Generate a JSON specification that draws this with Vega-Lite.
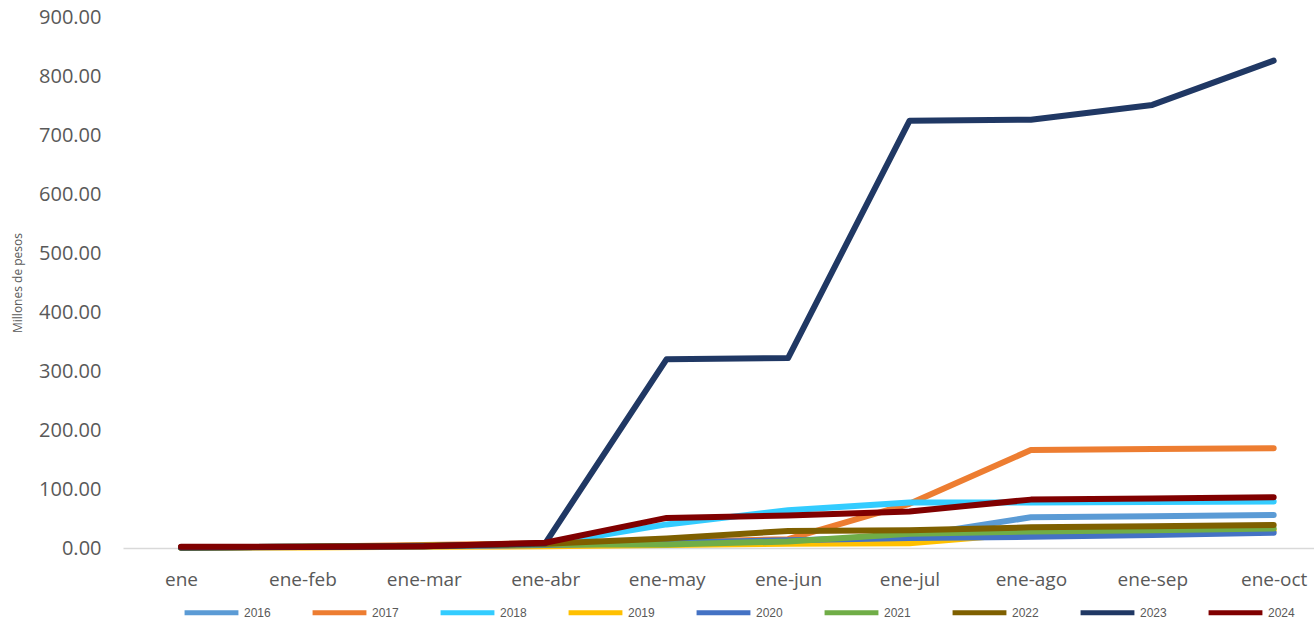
{
  "$schema": "https://vega.github.io/schema/vega-lite/v6.json",
  "width": 1191,
  "height": 531,
  "autosize": {"type": "none"},
  "padding": {"left": 123, "top": 17, "right": 0, "bottom": 73},
  "background": "white",
  "config": {"view": {"stroke": null}, "font": "Open Sans"},
  "datasets": {
    "d": [
      {"mes": "ene", "anio": "2016", "valor": 1}, {"mes": "ene-feb", "anio": "2016", "valor": 2}, {"mes": "ene-mar", "anio": "2016", "valor": 3}, {"mes": "ene-abr", "anio": "2016", "valor": 5}, {"mes": "ene-may", "anio": "2016", "valor": 8}, {"mes": "ene-jun", "anio": "2016", "valor": 12}, {"mes": "ene-jul", "anio": "2016", "valor": 20}, {"mes": "ene-ago", "anio": "2016", "valor": 52}, {"mes": "ene-sep", "anio": "2016", "valor": 54}, {"mes": "ene-oct", "anio": "2016", "valor": 56},
      {"mes": "ene", "anio": "2017", "valor": 1}, {"mes": "ene-feb", "anio": "2017", "valor": 2}, {"mes": "ene-mar", "anio": "2017", "valor": 5}, {"mes": "ene-abr", "anio": "2017", "valor": 8}, {"mes": "ene-may", "anio": "2017", "valor": 10}, {"mes": "ene-jun", "anio": "2017", "valor": 15}, {"mes": "ene-jul", "anio": "2017", "valor": 75}, {"mes": "ene-ago", "anio": "2017", "valor": 166}, {"mes": "ene-sep", "anio": "2017", "valor": 168}, {"mes": "ene-oct", "anio": "2017", "valor": 169},
      {"mes": "ene", "anio": "2018", "valor": 1}, {"mes": "ene-feb", "anio": "2018", "valor": 2}, {"mes": "ene-mar", "anio": "2018", "valor": 3}, {"mes": "ene-abr", "anio": "2018", "valor": 6}, {"mes": "ene-may", "anio": "2018", "valor": 40}, {"mes": "ene-jun", "anio": "2018", "valor": 64}, {"mes": "ene-jul", "anio": "2018", "valor": 77}, {"mes": "ene-ago", "anio": "2018", "valor": 77}, {"mes": "ene-sep", "anio": "2018", "valor": 78}, {"mes": "ene-oct", "anio": "2018", "valor": 79},
      {"mes": "ene", "anio": "2019", "valor": 0.5}, {"mes": "ene-feb", "anio": "2019", "valor": 1}, {"mes": "ene-mar", "anio": "2019", "valor": 2}, {"mes": "ene-abr", "anio": "2019", "valor": 3}, {"mes": "ene-may", "anio": "2019", "valor": 5}, {"mes": "ene-jun", "anio": "2019", "valor": 7}, {"mes": "ene-jul", "anio": "2019", "valor": 8}, {"mes": "ene-ago", "anio": "2019", "valor": 25}, {"mes": "ene-sep", "anio": "2019", "valor": 28}, {"mes": "ene-oct", "anio": "2019", "valor": 30},
      {"mes": "ene", "anio": "2020", "valor": 1}, {"mes": "ene-feb", "anio": "2020", "valor": 2}, {"mes": "ene-mar", "anio": "2020", "valor": 3}, {"mes": "ene-abr", "anio": "2020", "valor": 5}, {"mes": "ene-may", "anio": "2020", "valor": 9}, {"mes": "ene-jun", "anio": "2020", "valor": 13}, {"mes": "ene-jul", "anio": "2020", "valor": 17}, {"mes": "ene-ago", "anio": "2020", "valor": 19}, {"mes": "ene-sep", "anio": "2020", "valor": 22}, {"mes": "ene-oct", "anio": "2020", "valor": 26},
      {"mes": "ene", "anio": "2021", "valor": 1}, {"mes": "ene-feb", "anio": "2021", "valor": 2}, {"mes": "ene-mar", "anio": "2021", "valor": 4}, {"mes": "ene-abr", "anio": "2021", "valor": 6}, {"mes": "ene-may", "anio": "2021", "valor": 6}, {"mes": "ene-jun", "anio": "2021", "valor": 11}, {"mes": "ene-jul", "anio": "2021", "valor": 24}, {"mes": "ene-ago", "anio": "2021", "valor": 28}, {"mes": "ene-sep", "anio": "2021", "valor": 30}, {"mes": "ene-oct", "anio": "2021", "valor": 33},
      {"mes": "ene", "anio": "2022", "valor": 1}, {"mes": "ene-feb", "anio": "2022", "valor": 2}, {"mes": "ene-mar", "anio": "2022", "valor": 4}, {"mes": "ene-abr", "anio": "2022", "valor": 7}, {"mes": "ene-may", "anio": "2022", "valor": 16}, {"mes": "ene-jun", "anio": "2022", "valor": 29}, {"mes": "ene-jul", "anio": "2022", "valor": 30}, {"mes": "ene-ago", "anio": "2022", "valor": 35}, {"mes": "ene-sep", "anio": "2022", "valor": 37}, {"mes": "ene-oct", "anio": "2022", "valor": 39},
      {"mes": "ene", "anio": "2023", "valor": 1}, {"mes": "ene-feb", "anio": "2023", "valor": 1.5}, {"mes": "ene-mar", "anio": "2023", "valor": 3}, {"mes": "ene-abr", "anio": "2023", "valor": 8}, {"mes": "ene-may", "anio": "2023", "valor": 320}, {"mes": "ene-jun", "anio": "2023", "valor": 322}, {"mes": "ene-jul", "anio": "2023", "valor": 724}, {"mes": "ene-ago", "anio": "2023", "valor": 726}, {"mes": "ene-sep", "anio": "2023", "valor": 751}, {"mes": "ene-oct", "anio": "2023", "valor": 826},
      {"mes": "ene", "anio": "2024", "valor": 2}, {"mes": "ene-feb", "anio": "2024", "valor": 2}, {"mes": "ene-mar", "anio": "2024", "valor": 3}, {"mes": "ene-abr", "anio": "2024", "valor": 9}, {"mes": "ene-may", "anio": "2024", "valor": 51}, {"mes": "ene-jun", "anio": "2024", "valor": 55}, {"mes": "ene-jul", "anio": "2024", "valor": 62}, {"mes": "ene-ago", "anio": "2024", "valor": 82}, {"mes": "ene-sep", "anio": "2024", "valor": 84}, {"mes": "ene-oct", "anio": "2024", "valor": 86}
    ]
  },
  "data": {"name": "d"},
  "mark": {"type": "line", "strokeWidth": 6, "strokeCap": "round", "strokeJoin": "round"},
  "encoding": {
    "x": {
      "field": "mes", "type": "ordinal",
      "sort": ["ene", "ene-feb", "ene-mar", "ene-abr", "ene-may", "ene-jun", "ene-jul", "ene-ago", "ene-sep", "ene-oct"],
      "scale": {"type": "point", "padding": 0.405, "align": 0.59},
      "axis": {
        "title": null, "labelAngle": 0, "ticks": false, "grid": false,
        "domainColor": "#D9D9D9", "domainWidth": 1.5,
        "labelFontSize": 19, "labelColor": "#595959", "labelPadding": 22,
        "labelFont": "Open Sans"
      }
    },
    "y": {
      "field": "valor", "type": "quantitative",
      "scale": {"domain": [0, 900], "nice": false},
      "axis": {
        "title": "Millones de pesos", "titleFontSize": 12, "titleFontWeight": "normal",
        "titleColor": "#595959", "titleFont": "Open Sans", "titlePadding": 14,
        "values": [0, 100, 200, 300, 400, 500, 600, 700, 800, 900],
        "format": ".2f", "domain": false, "ticks": false, "grid": false,
        "labelFontSize": 20, "labelColor": "#595959", "labelPadding": 22, "labelFont": "Open Sans"
      }
    },
    "color": {
      "field": "anio", "type": "nominal",
      "scale": {
        "domain": ["2016", "2017", "2018", "2019", "2020", "2021", "2022", "2023", "2024"],
        "range": ["#5B9BD5", "#ED7D31", "#33CCFF", "#FFC000", "#4472C4", "#70AD47", "#7F6000", "#203864", "#800000"]
      },
      "legend": {
        "title": null, "orient": "none", "direction": "horizontal",
        "legendX": 59, "legendY": 566,
        "symbolType": "stroke", "symbolSize": 2900, "symbolStrokeWidth": 5,
        "labelFontSize": 12, "labelColor": "#595959", "labelFont": "Liberation Sans",
        "labelOffset": 3, "columnPadding": 31, "columns": 9
      }
    }
  }
}
